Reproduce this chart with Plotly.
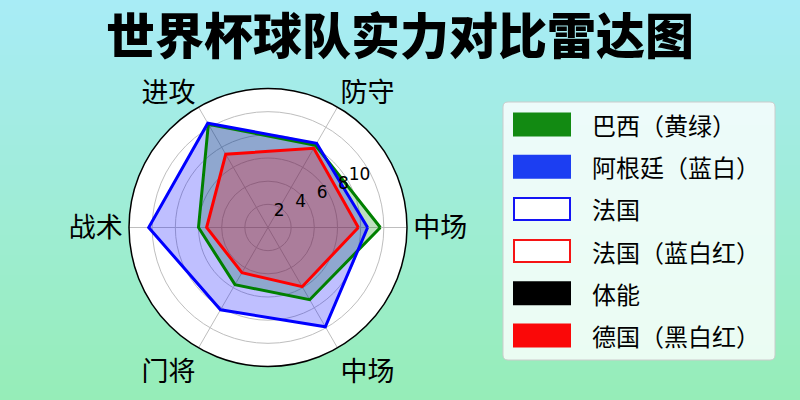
import plotly.graph_objects as go

# ---------------- data ----------------
axis_labels = ["中场", "防守", "进攻", "战术", "门将", "中场"]
axis_angles = [0, 60, 120, 180, 240, 300]

brazil = [9.7, 8.2, 10.3, 6.0, 5.7, 7.2]
argentina = [8.6, 8.4, 10.4, 10.3, 8.2, 9.9]
france = [7.8, 7.9, 7.3, 5.3, 4.5, 5.9]

radial_ticks = [2, 4, 6, 8, 10]

legend_labels = ["巴西（黄绿）", "阿根廷（蓝白）", "法国", "法国（蓝白红）", "体能", "德国（黑白红）"]
legend_fill = ["rgb(18,138,18)", "rgb(28,62,242)", "white", "white", "black", "rgb(250,8,8)"]
legend_edge = ["rgb(18,138,18)", "rgb(28,62,242)", "rgb(20,20,245)", "rgb(245,20,20)", "black", "rgb(250,8,8)"]

title_text = "世界杯球队实力对比雷达图"

# ---------------- figure ----------------
W, H = 800, 400
FONT = "Noto Sans CJK SC"

def px(x):
    return x / W

def py(y):
    return 1 - y / H

fig = go.Figure()

series = [
    (brazil, "rgb(0,128,0)", "rgba(0,128,0,0.25)"),
    (argentina, "rgb(0,0,255)", "rgba(0,0,255,0.25)"),
    (france, "rgb(255,0,0)", "rgba(255,0,0,0.25)"),
]
# fills first (all), then outlines on top
for vals, lc, fc in series:
    fig.add_trace(go.Scatterpolar(
        r=vals + vals[:1],
        theta=axis_angles + axis_angles[:1],
        mode="lines",
        fill="toself",
        fillcolor=fc,
        line=dict(color="rgba(0,0,0,0)", width=0),
        showlegend=False,
        hoverinfo="skip",
    ))
for vals, lc, fc in series:
    fig.add_trace(go.Scatterpolar(
        r=vals + vals[:1],
        theta=axis_angles + axis_angles[:1],
        mode="lines",
        line=dict(color=lc, width=3),
        showlegend=False,
        hoverinfo="skip",
    ))

shapes = []
# background gradient (top cyan -> bottom mint)
top = (168, 236, 246)
bot = (150, 237, 184)
n = 80
for i in range(n):
    t = i / (n - 1)
    c = tuple(round(top[k] + (bot[k] - top[k]) * t) for k in range(3))
    shapes.append(dict(type="rect", xref="paper", yref="paper",
                       x0=0, x1=1, y0=1 - (i + 1) / n - 0.002, y1=1 - i / n,
                       fillcolor="rgb(%d,%d,%d)" % c, line=dict(width=0), layer="below"))

# legend frame (rounded)
lx0, lx1, ly0, ly1, rr = 503, 775, 102, 360, 5
def P(x, y):
    return "%.5f,%.5f" % (px(x), py(y))
path = ("M " + P(lx0 + rr, ly0) + " L " + P(lx1 - rr, ly0) + " Q " + P(lx1, ly0) + " " + P(lx1, ly0 + rr) +
        " L " + P(lx1, ly1 - rr) + " Q " + P(lx1, ly1) + " " + P(lx1 - rr, ly1) +
        " L " + P(lx0 + rr, ly1) + " Q " + P(lx0, ly1) + " " + P(lx0, ly1 - rr) +
        " L " + P(lx0, ly0 + rr) + " Q " + P(lx0, ly0) + " " + P(lx0 + rr, ly0) + " Z")
shapes.append(dict(type="path", xref="paper", yref="paper", path=path,
                   fillcolor="rgba(255,255,255,0.8)", line=dict(color="rgb(204,204,204)", width=1),
                   layer="above"))

annotations = []
row0, dy = 124.5, 42.2
for i, lab in enumerate(legend_labels):
    yc = row0 + i * dy
    shapes.append(dict(type="rect", xref="paper", yref="paper",
                       x0=px(514), x1=px(570), y0=py(yc + 11), y1=py(yc - 11),
                       fillcolor=legend_fill[i], line=dict(color=legend_edge[i], width=2),
                       layer="above"))
    annotations.append(dict(text=lab, xref="paper", yref="paper", x=px(590), y=py(yc),
                            xanchor="left", yanchor="middle", showarrow=False,
                            font=dict(family=FONT, size=24, color="black")))

R = 139
cx, cy = 268, 227.5
fig.update_layout(
    width=W, height=H,
    margin=dict(l=0, r=0, t=0, b=0),
    paper_bgcolor="rgb(160,236,215)",
    plot_bgcolor="rgba(0,0,0,0)",
    shapes=shapes,
    annotations=annotations,
    showlegend=False,
    title=dict(text=title_text, x=0.5, xref="paper", xanchor="center",
               y=py(37), yref="paper", yanchor="middle",
               font=dict(family=FONT, size=49, color="black", weight=900)),
    polar=dict(
        domain=dict(x=[px(cx - R), px(cx + R)], y=[py(cy + R), py(cy - R)]),
        bgcolor="white",
        angularaxis=dict(
            tickmode="array", tickvals=axis_angles, ticktext=axis_labels,
            rotation=0, direction="counterclockwise", thetaunit="degrees",
            showline=True, linecolor="black", linewidth=1.5,
            gridcolor="rgb(190,190,190)", gridwidth=1,
            ticks="",
            tickfont=dict(family=FONT, size=27, color="black"),
        ),
        radialaxis=dict(
            range=[0, 12], tickmode="array", tickvals=radial_ticks,
            ticktext=[str(v) for v in radial_ticks],
            angle=22.5, side="counterclockwise", tickangle=22.5,
            showline=False, ticks="",
            gridcolor="rgb(190,190,190)", gridwidth=1,
            tickfont=dict(family="DejaVu Sans", size=17, color="black"),
        ),
    ),
)

fig.write_html("out.html", config={"displayModeBar": False},
               post_script="document.body.style.margin='0';document.body.style.overflow='hidden';")
